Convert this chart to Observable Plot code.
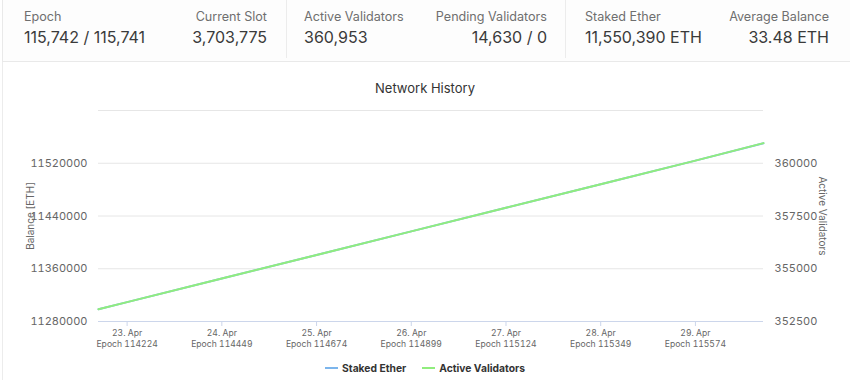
<!DOCTYPE html>
<html>
<head>
<meta charset="utf-8">
<script src="https://cdn.jsdelivr.net/npm/d3@7"></script>
<script src="https://cdn.jsdelivr.net/npm/@observablehq/plot@0.6"></script>
<style>
  html, body { margin: 0; padding: 0; background: #fff; font-family: Inter, "Noto Sans", sans-serif; }
  #page { position: relative; width: 850px; height: 380px; overflow: hidden; background: #fff; }
  #header { position: absolute; left: 2px; top: 0; width: 848px; height: 61px; border-left: 1px solid #e9e9e9; border-bottom: 1px solid #e9e9e9; background: #fdfdfd; }
  .lbl { position: absolute; font-size: 12.6px; color: #6f6f6f; line-height: 1; white-space: nowrap; }
  .val { position: absolute; font-size: 16px; color: #3a3a3a; line-height: 1; white-space: nowrap; }
  .vsep { position: absolute; top: 0; width: 1px; height: 58px; background: #ececec; }
  #chart { position: absolute; left: 0; top: 62px; }
  #chartborder { position: absolute; left: 2px; top: 62px; width: 1px; height: 318px; background: #ececec; }
  #title { position: absolute; left: 0; width: 850px; top: 80px; text-align: center; font-size: 13px; color: #333; line-height: 16px; }
  #legend { position: absolute; left: 0; width: 850px; top: 361px; display: flex; justify-content: center; font-size: 10.3px; font-weight: bold; color: #333; line-height: 14px; }
  .item { display: flex; align-items: center; margin: 0 8px; }
  .sw { width: 13px; height: 2px; margin-right: 4px; }
</style>
</head>
<body>
<div id="page">
  <div id="header"></div>
  <div id="chart"></div>
  <div id="chartborder"></div>
  <div id="title">Network History</div>
  <div id="legend"></div>
</div>
<script>
// ---- header stats ----
const statLabels = ["Epoch", "Current Slot", "Active Validators", "Pending Validators", "Staked Ether", "Average Balance"];
const statValues = ["115,742 / 115,741", "3,703,775", "360,953", "14,630 / 0", "11,550,390 ETH", "33.48 ETH"];
const statAlign = ["left", "right", "left", "right", "left", "right"];

// ---- chart data ----
const dates = [
  "2021-04-22T16:45:00Z", "2021-04-23T00:00:00Z", "2021-04-24T00:00:00Z", "2021-04-25T00:00:00Z",
  "2021-04-26T00:00:00Z", "2021-04-27T00:00:00Z", "2021-04-28T00:00:00Z", "2021-04-29T00:00:00Z",
  "2021-04-29T17:15:00Z"
];
const stakedEther = [11298470, 11309370, 11345090, 11380810, 11416690, 11452410, 11488140, 11524010, 11550390];
const activeValidators = [353077, 353418, 354534, 355650, 356771, 357888, 359004, 360125, 360953];

const tickDates = ["2021-04-23", "2021-04-24", "2021-04-25", "2021-04-26", "2021-04-27", "2021-04-28", "2021-04-29"];
const tickEpochs = [114224, 114449, 114674, 114899, 115124, 115349, 115574];
const balanceTicks = [11280000, 11360000, 11440000, 11520000, 11600000];
const validatorTicks = [352500, 355000, 357500, 360000];
const seriesNames = ["Staked Ether", "Active Validators"];
const seriesColors = ["#7cb5ec", "#90ed7d"];

// header build
const header = document.getElementById("header");
const colLeft = [21, 301, 582];
const colRight = [264, 544, 826];
statLabels.forEach((lab, i) => {
  const col = Math.floor(i / 2);
  const l = document.createElement("div");
  const v = document.createElement("div");
  l.className = "lbl"; v.className = "val";
  l.textContent = lab; v.textContent = statValues[i];
  if (statAlign[i] === "left") {
    l.style.left = colLeft[col] + "px"; v.style.left = colLeft[col] + "px";
  } else {
    l.style.right = (848 - colRight[col]) + "px"; v.style.right = (848 - colRight[col]) + "px";
  }
  l.style.top = "11px"; v.style.top = "29px";
  header.appendChild(l); header.appendChild(v);
});
[283, 562].forEach(x => {
  const s = document.createElement("div");
  s.className = "vsep"; s.style.left = x + "px";
  header.appendChild(s);
});

// map validators onto the balance scale for the secondary axis
const b0 = balanceTicks[0], v0 = validatorTicks[0];
const k = (balanceTicks[1] - balanceTicks[0]) / (validatorTicks[1] - validatorTicks[0]);
const toBal = v => b0 + (v - v0) * k;

const parse = d3.utcParse("%Y-%m-%dT%H:%M:%SZ");
const staked = dates.map((d, i) => ({date: parse(d), value: stakedEther[i]}));
const active = dates.map((d, i) => ({date: parse(d), value: toBal(activeValidators[i])}));
const xt = tickDates.map(d => d3.utcParse("%Y-%m-%d")(d));

const chart = Plot.plot({
  width: 850,
  height: 318,
  marginTop: 48,
  marginBottom: 59,
  marginLeft: 98,
  marginRight: 87,
  style: {fontFamily: "Inter, sans-serif", fontSize: "11px", color: "#666", background: "transparent", overflow: "visible"},
  x: {type: "utc", domain: [staked[0].date, staked[staked.length - 1].date]},
  y: {domain: [balanceTicks[0], balanceTicks[balanceTicks.length - 1]]},
  marks: [
    Plot.gridY(balanceTicks, {stroke: "#e6e6e6", strokeOpacity: 1}),
    Plot.ruleY([balanceTicks[0]], {stroke: "#ccd6eb"}),
    Plot.axisY(balanceTicks.slice(0, -1), {anchor: "left", tickSize: 0, tickPadding: 11, tickFormat: d => String(d), label: null, fill: "#666"}),
    Plot.axisY(validatorTicks.map(toBal), {anchor: "right", tickSize: 0, tickPadding: 11, tickFormat: d => String(Math.round(v0 + (d - b0) / k)), label: null, fill: "#666"}),
    Plot.axisX(xt, {anchor: "bottom", tickSize: 5, tickPadding: 2, stroke: "#ccd6eb", fill: "#666", label: null, fontSize: 8.6,
      tickFormat: (d, i) => `${d.getUTCDate()}. Apr\nEpoch ${tickEpochs[i]}`, lineHeight: 1.28}),
    Plot.text(["Balance [ETH]"], {text: d => d, frameAnchor: "left", textAnchor: "middle", dx: -68, rotate: -90, fill: "#666", fontSize: 10}),
    Plot.text(["Active Validators"], {text: d => d, frameAnchor: "right", textAnchor: "middle", dx: 59, rotate: 90, fill: "#666", fontSize: 10}),
    Plot.line(staked, {x: "date", y: "value", stroke: seriesColors[0], strokeWidth: 2}),
    Plot.line(active, {x: "date", y: "value", stroke: seriesColors[1], strokeWidth: 2})
  ]
});
document.getElementById("chart").appendChild(chart);

// legend
const legend = document.getElementById("legend");
seriesNames.forEach((n, i) => {
  const it = document.createElement("div");
  it.className = "item";
  it.innerHTML = `<span class="sw" style="background:${seriesColors[i]}"></span><span>${n}</span>`;
  legend.appendChild(it);
});
</script>
</body>
</html>
